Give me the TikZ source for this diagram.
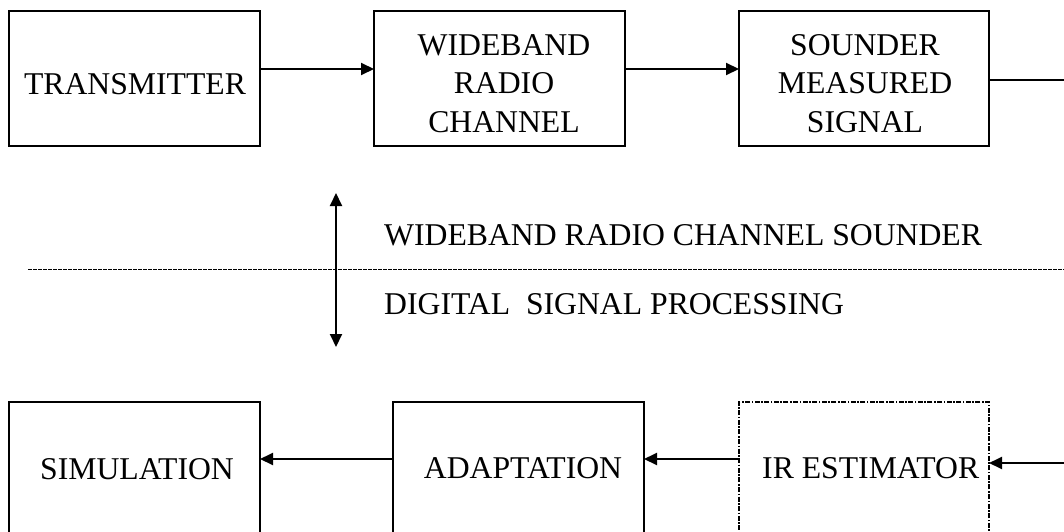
\documentclass[tikz,border=0pt]{standalone}
\usepackage{fontspec}
\setmainfont{Liberation Serif}
\usetikzlibrary{arrows.meta}

\tikzset{
  block/.style={draw, line width=2pt, rectangle, inner sep=0pt, outer sep=0pt,
                minimum width=251pt, minimum height=135pt},
  dotblock/.style={block, line width=1.9pt,
                dash pattern=on 5pt off 1.5pt on 1.6pt off 1.5pt},
  label/.style={inner sep=0pt, align=center, font=\fontsize{31.7}{38.5}\selectfont},
  conn/.style={line width=2pt},
  arr/.style={conn, -{Triangle[length=13pt,width=12pt]}},
  twoway/.style={conn, {Triangle[length=13pt,width=12pt]}-{Triangle[length=13pt,width=12pt]}},
  divider/.style={line width=1pt, dash pattern=on 3.5pt off 1.5pt}
}

\begin{document}
\begin{tikzpicture}[x=1pt, y=-1pt]
  \useasboundingbox (0,0) rectangle (1064,532);
  \clip (0,0) rectangle (1064,532);

  % measurement chain (top row)
  \node[block] (tx) at (134.5,78.5) {};
  \node[block] (wb) at (499.5,78.5) {};
  \node[block, minimum width=250pt] (sm) at (864,78.5) {};
  \node[label, anchor=base] (txt) at (135,95) {TRANSMITTER};
  \node[label, anchor=base] (wbt) at (504,132) {WIDEBAND\\RADIO\\CHANNEL};
  \node[label, anchor=base] (smt) at (865,132) {SOUNDER\\MEASURED\\SIGNAL};

  % processing chain (bottom row)
  \node[block] (sim) at (134.5,469.5) {};
  \node[block] (ad) at (518.5,469.5) {};
  \node[dotblock, minimum width=250pt] (ir) at (864,469.5) {};
  \node[label, anchor=base] (simt) at (137,479) {SIMULATION};
  \node[label, anchor=base] (adt) at (523,478) {ADAPTATION};
  \node[label, anchor=base west] (irt) at (762,478) {IR ESTIMATOR};

  % free ends at the right margin
  \coordinate (outR) at (1064,80);
  \coordinate (inR) at (1064,463);

  % connectors
  \draw[arr] ([yshift=9.5pt]tx.east) -- ([yshift=9.5pt]wb.west);
  \draw[arr] ([yshift=9.5pt]wb.east) -- ([yshift=9.5pt]sm.west);
  \draw[conn] ([yshift=-1.5pt]sm.east) -- (outR);
  \draw[arr] (inR) -- ([yshift=6.5pt]ir.east);
  \draw[arr] ([yshift=10.5pt]ir.west) -- ([yshift=10.5pt]ad.east);
  \draw[arr] ([yshift=10.5pt]ad.west) -- ([yshift=10.5pt]sim.east);

  % boundary between the two domains
  \coordinate (dl) at (28,269);
  \coordinate (dr) at (1064,269);
  \draw[divider] (dl) -- (dr);
  \coordinate (vt) at (336,193);
  \coordinate (vb) at (336,347);
  \draw[twoway] (vt) -- (vb);
  \node[label, anchor=base west] (upper) at (384,245) {WIDEBAND RADIO CHANNEL SOUNDER};
  \node[label, anchor=base west] (lower) at (384,314) {DIGITAL\ \ SIGNAL PROCESSING};
\end{tikzpicture}
\end{document}
